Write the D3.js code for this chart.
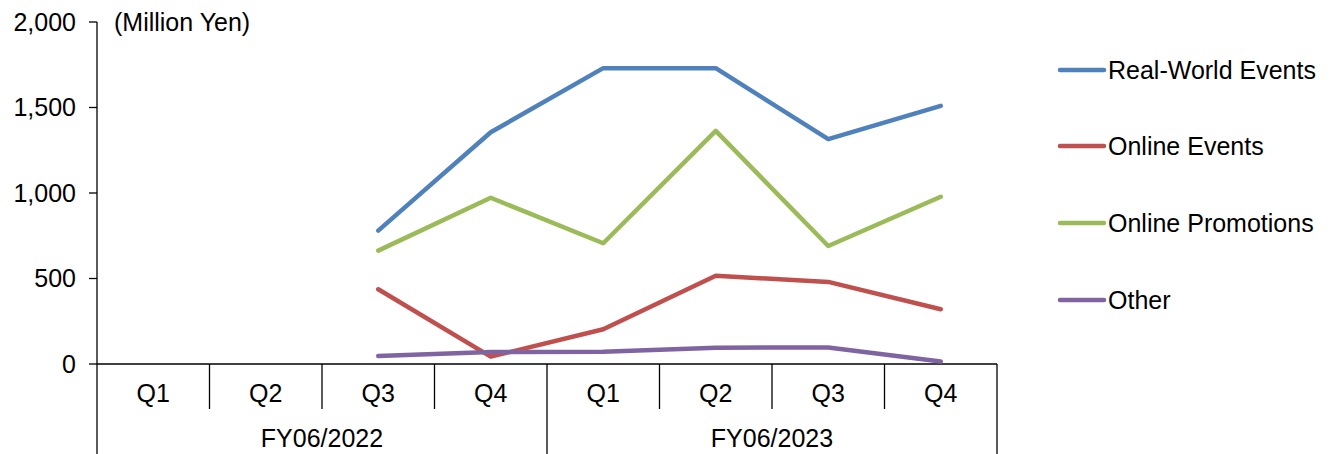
<!DOCTYPE html>
<html>
<head>
<meta charset="utf-8">
<script src="https://cdn.jsdelivr.net/npm/d3@7"></script>
<style>
  body { margin: 0; background: #fff; }
  text { font-family: "Liberation Sans", Arial, sans-serif; fill: #000; }
</style>
</head>
<body>
<div></div>
<script>
var quarters = ['Q1', 'Q2', 'Q3', 'Q4', 'Q1', 'Q2', 'Q3', 'Q4'];
var fiscalYears = ['FY06/2022', 'FY06/2023'];
var seriesNames = ['Real-World Events', 'Online Events', 'Online Promotions', 'Other'];
var seriesColors = ['#4F81BD', '#C0504D', '#9BBB59', '#8064A2'];
// null = no data for that quarter
var realWorld = [null, null, 780, 1355, 1730, 1730, 1315, 1510];
var onlineEvents = [null, null, 437, 43, 203, 516, 480, 320];
var onlinePromos = [null, null, 663, 972, 706, 1363, 690, 978];
var other = [null, null, 47, 70, 72, 95, 97, 15];
var yTicks = [0, 500, 1000, 1500, 2000];

var width = 1330;
var height = 454;
var fontSize = '25px';

var svg = d3.select('div')
    .append('svg')
    .attr('width', width)
    .attr('height', height);

var x = d3.scaleBand()
    .domain(d3.range(quarters.length))
    .range([97, 997])
    .padding(0);

var y = d3.scaleLinear()
    .domain([0, 2000])
    .range([364, 22]);

// y axis
svg.append('line')
    .attr('x1', 97).attr('x2', 97)
    .attr('y1', y(2000)).attr('y2', height)
    .attr('stroke', '#000').attr('stroke-width', 1.3);

svg.append('g')
    .selectAll('line')
    .data(yTicks)
    .enter()
    .append('line')
    .attr('x1', 89).attr('x2', 97)
    .attr('y1', (d) => y(d)).attr('y2', (d) => y(d))
    .attr('stroke', '#000').attr('stroke-width', 1.3);

svg.append('g')
    .selectAll('text')
    .data(yTicks)
    .enter()
    .append('text')
    .attr('x', 76)
    .attr('y', (d) => y(d))
    .attr('dy', '0.35em')
    .attr('text-anchor', 'end')
    .style('font-size', fontSize)
    .text((d) => d3.format(',')(d));

svg.append('text')
    .attr('x', 114)
    .attr('y', y(2000))
    .attr('dy', '0.35em')
    .style('font-size', fontSize)
    .text('(Million Yen)');

// x axis
svg.append('line')
    .attr('x1', 97).attr('x2', x.range()[1])
    .attr('y1', y(0)).attr('y2', y(0))
    .attr('stroke', '#000').attr('stroke-width', 1.3);

// separators: short between quarters, long between years
svg.append('g')
    .selectAll('line')
    .data(d3.range(1, quarters.length + 1))
    .enter()
    .append('line')
    .attr('x1', (i) => x(i - 1) + x.bandwidth())
    .attr('x2', (i) => x(i - 1) + x.bandwidth())
    .attr('y1', y(0))
    .attr('y2', (i) => i % 4 === 0 ? height : 409)
    .attr('stroke', '#000').attr('stroke-width', 1.3);

svg.append('g')
    .selectAll('text')
    .data(quarters)
    .enter()
    .append('text')
    .attr('x', (d, i) => x(i) + x.bandwidth() / 2)
    .attr('y', 393)
    .attr('dy', '0.35em')
    .attr('text-anchor', 'middle')
    .style('font-size', fontSize)
    .text((d) => d);

svg.append('g')
    .selectAll('text')
    .data(fiscalYears)
    .enter()
    .append('text')
    .attr('x', (d, i) => (x(i * 4) + x(i * 4 + 3) + x.bandwidth()) / 2)
    .attr('y', 438)
    .attr('dy', '0.35em')
    .attr('text-anchor', 'middle')
    .style('font-size', fontSize)
    .text((d) => d);

// lines
var allSeries = [realWorld, onlineEvents, onlinePromos, other];
var line = d3.line()
    .defined((d) => d !== null)
    .x((d, i) => x(i) + x.bandwidth() / 2)
    .y((d) => y(d));

svg.append('g')
    .selectAll('path')
    .data(allSeries)
    .enter()
    .append('path')
    .attr('d', (d) => line(d))
    .attr('fill', 'none')
    .attr('stroke', (d, i) => seriesColors[i])
    .attr('stroke-width', 4.5)
    .attr('stroke-linecap', 'round')
    .attr('stroke-linejoin', 'round');

// legend
var legendY = [70, 146, 223, 300];
var legend = svg.append('g')
    .selectAll('g')
    .data(seriesNames)
    .enter()
    .append('g')
    .attr('transform', (d, i) => 'translate(1058,' + legendY[i] + ')');

legend.append('line')
    .attr('x1', 2).attr('x2', 46)
    .attr('y1', 0).attr('y2', 0)
    .attr('stroke', (d, i) => seriesColors[i])
    .attr('stroke-width', 4.5)
    .attr('stroke-linecap', 'round');

legend.append('text')
    .attr('x', 50)
    .attr('y', 0)
    .attr('dy', '0.35em')
    .style('font-size', fontSize)
    .text((d) => d);
</script>
</body>
</html>
